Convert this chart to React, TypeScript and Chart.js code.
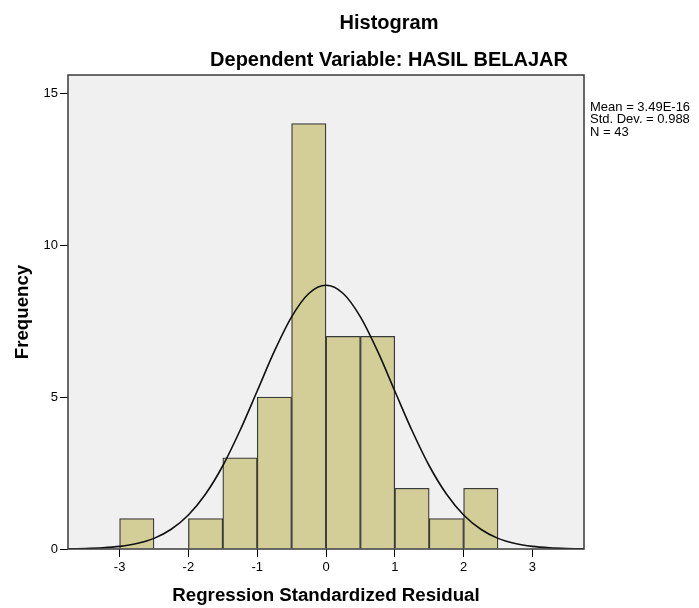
import React, { useEffect, useRef } from "react";
import { Chart, registerables } from "chart.js";

Chart.register(...registerables);

// ---- data ----
const binCenters = [-2.75, -2.25, -1.75, -1.25, -0.75, -0.25, 0.25, 0.75, 1.25, 1.75, 2.25];
const frequencies = [1, 0, 1, 3, 5, 14, 7, 7, 2, 1, 2];

const curveX = [
  -3.75, -3.5, -3.25, -3, -2.75, -2.5, -2.25, -2, -1.75, -1.5, -1.25, -1, -0.75, -0.5, -0.25,
  0, 0.25, 0.5, 0.75, 1, 1.25, 1.5, 1.75, 2, 2.25, 2.5, 2.75, 3, 3.25, 3.5, 3.75,
];
const curveY = [
  0.006, 0.016, 0.039, 0.086, 0.18, 0.35, 0.65, 1.12, 1.81, 2.74, 3.9, 5.2, 6.51, 7.64, 8.41,
  8.68, 8.41, 7.64, 6.51, 5.2, 3.9, 2.74, 1.81, 1.12, 0.65, 0.35, 0.18, 0.086, 0.039, 0.016, 0.006,
];

const xTickValues = [-3, -2, -1, 0, 1, 2, 3];
const yTickValues = [0, 5, 10, 15];

const titleText = "Histogram";
const subtitleText = "Dependent Variable: HASIL BELAJAR";
const xTitle = "Regression Standardized Residual";
const yTitle = "Frequency";
const statsLines = ["Mean = 3.49E-16", "Std. Dev. = 0.988", "N = 43"];

const FONT = "'Liberation Sans', Arial, sans-serif";

export default function App() {
  const ref = useRef<HTMLCanvasElement | null>(null);

  useEffect(() => {
    document.body.style.margin = "0";
    const canvas = ref.current;
    if (!canvas) return;

    const decor = {
      id: "decor",
      beforeDraw(chart: any) {
        const { ctx, chartArea: a } = chart;
        ctx.save();
        ctx.fillStyle = "#F0F0F0";
        ctx.fillRect(a.left, a.top, a.right - a.left, a.bottom - a.top);
        ctx.restore();
      },
      afterDatasetsDraw(chart: any) {
        const { ctx, chartArea: a } = chart;
        ctx.save();
        ctx.strokeStyle = "#3a3a3a";
        ctx.lineWidth = 1.5;
        ctx.strokeRect(a.left, a.top, a.right - a.left, a.bottom - a.top);
        ctx.restore();
      },
      afterDraw(chart: any) {
        const { ctx, chartArea: a } = chart;
        ctx.save();
        ctx.fillStyle = "#000";
        ctx.textAlign = "center";
        ctx.textBaseline = "middle";
        ctx.font = `bold 20px ${FONT}`;
        ctx.fillText(titleText, 389, 23);
        ctx.fillText(subtitleText, 389, 60);
        ctx.font = `bold 18.7px ${FONT}`;
        ctx.fillText(xTitle, (a.left + a.right) / 2, 596);
        ctx.save();
        ctx.translate(23, (a.top + a.bottom) / 2);
        ctx.rotate(-Math.PI / 2);
        ctx.fillText(yTitle, 0, 0);
        ctx.restore();
        ctx.textAlign = "left";
        ctx.font = `13px ${FONT}`;
        statsLines.forEach((s, i) => ctx.fillText(s, 590, 107 + i * 12.5));
        ctx.restore();
      },
    };

    const chart = new Chart(canvas, {
      type: "bar",
      data: {
        datasets: [
          {
            type: "line",
            data: curveX.map((x, i) => ({ x, y: curveY[i] })),
            borderColor: "#111",
            borderWidth: 1.6,
            pointRadius: 0,
            cubicInterpolationMode: "monotone",
            fill: false,
            order: 0,
          } as any,
          {
            type: "bar",
            data: binCenters.map((x, i) => ({ x, y: frequencies[i] })),
            backgroundColor: "#D3CE97",
            borderColor: "#3a3a3a",
            borderWidth: 1.3,
            barPercentage: 1,
            categoryPercentage: 1,
            order: 1,
          } as any,
        ],
      },
      options: {
        responsive: false,
        animation: false,
        events: [],
        layout: { padding: { left: 0, top: 75, right: 115, bottom: 0 } },
        plugins: { legend: { display: false }, tooltip: { enabled: false }, title: { display: false } },
        scales: {
          x: {
            type: "linear",
            min: -3.75,
            max: 3.75,
            offset: false,
            afterBuildTicks: (s: any) => {
              s.ticks = xTickValues.map((v) => ({ value: v }));
            },
            afterFit: (s: any) => {
              s.height = 59;
            },
            grid: { display: true, offset: false, drawOnChartArea: false, drawTicks: true, tickLength: 8, color: "#000", lineWidth: 1 },
            border: { display: false },
            ticks: { color: "#000", font: { family: FONT, size: 13 }, padding: 3, maxRotation: 0, autoSkip: false },
          },
          y: {
            type: "linear",
            min: 0,
            max: 15.6,
            afterBuildTicks: (s: any) => {
              s.ticks = yTickValues.map((v) => ({ value: v }));
            },
            afterFit: (s: any) => {
              s.width = 68;
            },
            grid: { display: true, offset: false, drawOnChartArea: false, drawTicks: true, tickLength: 8, color: "#000", lineWidth: 1 },
            border: { display: false },
            ticks: { color: "#000", font: { family: FONT, size: 13 }, padding: 2, autoSkip: false },
          },
        },
      },
      plugins: [decor],
    } as any);

    return () => chart.destroy();
  }, []);

  return (
    <div style={{ position: "absolute", left: 0, top: 0, width: 699, height: 608, background: "#fff" }}>
      <canvas ref={ref} width={699} height={608} style={{ display: "block", width: 699, height: 608 }} />
    </div>
  );
}
